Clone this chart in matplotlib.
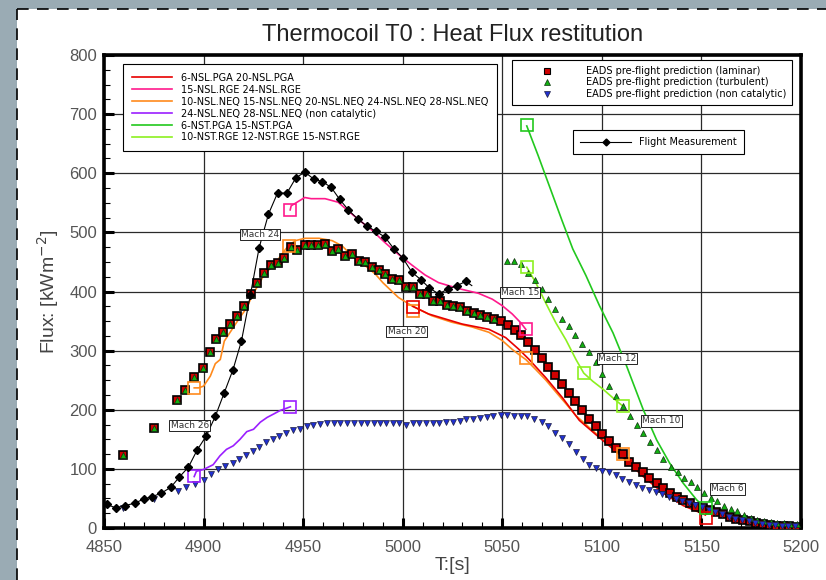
import matplotlib.pyplot as plt
from matplotlib.lines import Line2D
from matplotlib.patches import Rectangle

# Flight measurement (black diamonds + thin line)
flight_t = [4851.4, 4855.9, 4860.7, 4865.4, 4870, 4874.2, 4878.8, 4883.6, 4887.8, 4892.4,
            4896.8, 4901.4, 4905.9, 4910.3, 4914.8, 4919, 4923.5, 4927.9, 4932.6, 4937.2,
            4941.8, 4946.3, 4950.8, 4955.4, 4959.6, 4964.1, 4968.3, 4972.7, 4977.3, 4981.9,
            4986.4, 4991.1, 4995.6, 5000, 5004.5, 5009.1, 5013.4, 5018, 5022.7, 5027.2,
            5031.7, 5034.7]
flight_q = [40, 34, 38, 42, 49, 53, 59, 69, 86, 103,
            132, 156, 189, 228, 268, 316, 394, 474, 531, 567,
            566, 592, 602, 590, 586, 576, 556, 538, 523, 511,
            502, 492, 472, 457, 433, 420, 406, 396, 404, 410,
            417, 410]

# EADS pre-flight prediction (laminar)
eads_t = [4859.5, 4875, 4886.9, 4890.8, 4895.3, 4899.5, 4903, 4906.4, 4910, 4913.4,
          4916.6, 4920.3, 4923.7, 4926.7, 4930.4, 4933.8, 4937.2, 4940.6, 4944, 4947.1,
          4950.7, 4954, 4957.4, 4960.8, 4964.3, 4967.7, 4971, 4974.4, 4977.8, 4981.2,
          4984.5, 4988, 4991.2, 4994.8, 4998.2, 5001.6, 5005, 5008.7, 5012.1, 5015.4,
          5018.8, 5022.1, 5025.5, 5028.9, 5032.2, 5035.6, 5039, 5042.4, 5045.8, 5049.4,
          5052.9, 5056.2, 5059.6, 5063, 5066.3, 5069.7, 5073.1, 5076.5, 5079.9, 5083.3,
          5086.7, 5090.1, 5093.5, 5096.9, 5100.3, 5103.7, 5107, 5110.4, 5113.8, 5117.1,
          5120.5, 5123.9, 5127.5, 5130.8, 5134.2, 5137.5, 5140.8, 5144.2, 5147.5, 5150.9,
          5154.2, 5157.5, 5160.8, 5164.2, 5167.5, 5170.8, 5174.2, 5177.5, 5180.8, 5184.2,
          5187.5, 5190.8, 5194.2, 5197.5]
eads_lam = [124, 169, 216, 234, 256, 271, 298, 319, 331, 345,
            359, 376, 395, 415, 432, 445, 448, 457, 475, 471,
            478, 478, 478, 480, 469, 472, 460, 463, 451, 450,
            441, 437, 429, 421, 419, 407, 407, 396, 396, 384,
            384, 377, 375, 373, 367, 364, 360, 357, 354, 350,
            343, 335, 326, 315, 301, 288, 273, 258, 244, 229,
            214, 199, 185, 172, 159, 147, 136, 125, 112, 104,
            94, 85, 76, 67, 60, 53, 47, 42, 36, 33,
            30, 27, 23, 19, 16, 13.5, 11, 9, 7, 5,
            4, 3.4, 2.8, 2.3]

# EADS pre-flight prediction (turbulent): same as laminar up to 5045.8 s, then
n_shared = 49
turb_t_late = [5052.5, 5055.9, 5059.3, 5063, 5066.3, 5069.7, 5073.1, 5076.4, 5079.9, 5083.3,
               5086.7, 5090.1, 5093.5, 5096.9, 5100.3, 5103.7, 5107.2, 5110.6, 5114, 5117.4,
               5120.8, 5124.2, 5127.5, 5130.8, 5134.5, 5138, 5141.3, 5144.7, 5148, 5151.3,
               5154.7, 5158, 5161.3, 5164.7, 5168, 5171.3, 5174.7, 5178, 5181.3, 5184.7,
               5188, 5191.3, 5194.7, 5198]
turb_q_late = [452, 451, 446, 432, 419, 405, 388, 370, 353, 341,
               327, 312, 297, 280, 261, 240, 223, 207, 189, 175,
               160, 145, 132, 116, 104, 94, 85, 77, 69, 60,
               50, 45, 37, 32, 28, 22, 17.5, 13.6, 12, 9.6,
               9, 8, 6.8, 6.8]
turb_t = eads_t[:n_shared] + turb_t_late
turb_q = eads_lam[:n_shared] + turb_q_late

# EADS pre-flight prediction (non catalytic)
nc_t = [4859.5, 4875, 4887, 4891, 4895.8, 4900, 4903.9, 4907.3, 4911, 4914.6,
        4917.8, 4921.2, 4924.6, 4928, 4931.4, 4934.7, 4938.1, 4941.5, 4944.9, 4948.3,
        4951.7, 4955.1, 4958.5, 4961.9, 4965.3, 4968.7, 4972.1, 4975.5, 4978.9, 4982.3,
        4985.7, 4988.6, 4991.4, 4994.9, 4998.3, 5001.7, 5005, 5008.2, 5011.6, 5015,
        5018.4, 5021.9, 5025.1, 5028.6, 5032, 5035.4, 5038.7, 5042.1, 5045.5, 5049.2,
        5052.5, 5055.9, 5059.3, 5062.6, 5066, 5069.7, 5073.2, 5076.5, 5080, 5083.5,
        5087, 5090.3, 5093.7, 5097, 5100.3, 5103.7, 5107, 5110.3, 5113.7, 5117,
        5120.3, 5123.7, 5127, 5130.3, 5133.7, 5137, 5140.3, 5143.7, 5147, 5150.3,
        5153.7, 5157, 5160.3, 5163.7, 5167, 5170.3, 5173.7, 5177, 5180.3, 5183.7,
        5187, 5190.3, 5193.7, 5197]
nc_q = [33, 49, 63, 69, 75, 82, 91, 99, 105, 110,
        116, 123, 130, 137, 145, 151, 155, 160, 166, 167,
        173, 175, 176, 177, 178, 178, 178, 178, 178, 178,
        178, 178, 177, 177, 178, 175, 178, 177, 177, 178,
        177, 179, 179, 181, 184, 185, 186, 188, 189, 191,
        191, 190, 190, 189, 184, 179, 172, 161, 152, 142,
        128, 117, 107, 102, 97, 94, 89, 83, 78, 73,
        68, 65, 61, 57, 53, 49, 46, 42, 39, 35,
        30.5, 26.5, 23, 19, 16, 13.5, 11, 9, 7, 5,
        4.5, 4, 3.4, 3]

# Simulation curves
red_t = [5005, 5013, 5029.8, 5043.3, 5051.7, 5058.4, 5063.5, 5071.9, 5080.3, 5088.7,
         5097, 5103, 5110, 5120.8, 5130.8, 5140.8, 5150, 5152]
red_q = [375, 362, 345, 336, 322, 302, 285, 254, 220, 182,
         158, 141, 121, 87, 59, 38, 25, 22]
red_pts_t = [5005, 5152.5]
red_pts_q = [374, 17]

pink_t = [4943.5, 4944, 4950.8, 4954, 4961, 4967.6, 4972.7, 4977.7, 4984.4, 4991,
          4997.8, 5004.5, 5011.2, 5018, 5028, 5038, 5045, 5050, 5055, 5059.3, 5061.8]
pink_q = [538, 545, 559, 557, 557, 551, 536, 522, 504, 483,
          463, 445, 428, 415, 405, 397, 387, 376, 362, 347, 336]
pink_pts_t = [4943.3, 5062]
pink_pts_q = [538, 337]

orange_t = [4895.3, 4897.5, 4900, 4903.4, 4905.9, 4908.4, 4910.4, 4914.3, 4917.6, 4921.8,
            4924.3, 4927.7, 4931, 4935.2, 4938.6, 4942, 4946, 4951, 4958, 4964.6,
            4969.6, 4974.7, 4981.4, 4986.4, 4990, 4997.8, 5004.5, 5014.6, 5024.7, 5034.8,
            5043.3, 5050, 5055, 5059.3, 5061.8, 5066.8, 5071.9, 5076.9, 5082, 5087,
            5092, 5097, 5102, 5106, 5110.5]
orange_q = [237, 237, 240, 257, 278, 285, 316, 336, 353, 373,
            393, 412, 432, 443, 460, 475, 486, 490, 490, 486,
            477, 460, 443, 429, 415, 390, 376, 359, 348, 340,
            331, 317, 302, 291, 285, 268, 250, 230, 210, 190,
            175, 160, 145, 135, 126]
orange_pts_t = [4895.3, 4942.8, 5005, 5062, 5110.8]
orange_pts_q = [236, 477, 367, 287, 126]

purple_t = [4895.3, 4896.4, 4900, 4904.8, 4908.2, 4911.5, 4914.9, 4918.3, 4921.7, 4925.1,
            4928.5, 4931.9, 4935.3, 4938.6, 4942, 4943.6]
purple_q = [87, 96, 99, 107, 122, 133, 139, 150, 163, 167,
            179, 187, 193, 199, 203, 205]
purple_pts_t = [4895.3, 4943.6]
purple_pts_q = [88, 205]

green_t = [5062.3, 5068, 5074, 5080, 5085.4, 5092, 5098.8, 5105.6, 5112.3, 5120.8,
           5127.5, 5134, 5140.8, 5147.5, 5152]
green_q = [680, 630, 575, 520, 472, 427, 376, 330, 275, 200,
           149, 110, 76, 48, 33]
green_pts_t = [5062.3, 5152.3]
green_pts_q = [681, 33]

lime_t = [5062.3, 5066.8, 5071.9, 5076.9, 5082, 5087, 5090.9, 5095.5, 5100.5, 5105.6, 5110.6]
lime_q = [441, 415, 380, 347, 318, 285, 262, 248, 235, 220, 206]
lime_pts_t = [5062.3, 5090.9, 5110.6]
lime_pts_q = [441, 263, 207]

mach_labels = ['Mach 24', 'Mach 26', 'Mach 20', 'Mach 15', 'Mach 12', 'Mach 10', 'Mach 6']
mach_t = [4928.3, 4893, 5002, 5058.8, 5107.5, 5130, 5163]
mach_q = [497, 173, 332, 398, 286, 181, 66]

narrow = ['Liberation Sans Narrow', 'Liberation Sans', 'DejaVu Sans']

fig = plt.figure(figsize=(8.26, 5.8), dpi=100)
fig.patch.set_facecolor('#9aabb4')
fig.patches.append(Rectangle((17 / 826, 0), 1, 1 - 9 / 580, transform=fig.transFigure,
                             facecolor='white', edgecolor='none', zorder=-5))
fig.lines.append(Line2D([17 / 826, 17 / 826], [0, 1 - 8.5 / 580], transform=fig.transFigure,
                        color='black', lw=1.2, dashes=(7, 5), zorder=-4))
fig.lines.append(Line2D([17 / 826, 1], [1 - 8.5 / 580, 1 - 8.5 / 580], transform=fig.transFigure,
                        color='black', lw=1.2, dashes=(7, 5), zorder=-4))

ax = fig.add_axes([104 / 826, 1 - 528 / 580, 697 / 826, 473 / 580])

# simulation lines
ax.plot(orange_t, orange_q, color='#ff8a1c', lw=1.2, zorder=3)
ax.plot(red_t, red_q, color='#e80000', lw=1.2, zorder=3)
ax.plot(pink_t, pink_q, color='#ff1a8c', lw=1.2, zorder=3)
ax.plot(purple_t, purple_q, color='#9b1fff', lw=1.2, zorder=3)
ax.plot(green_t, green_q, color='#22c81e', lw=1.2, zorder=3)
ax.plot(lime_t, lime_q, color='#8cf020', lw=1.2, zorder=3)

# EADS predictions
ax.plot(eads_t, eads_lam, 's', ms=5.2, mfc='#d00000', mec='black', mew=1.2, zorder=4)
ax.plot(turb_t, turb_q, '^', ms=4.4, mfc='#10b010', mec='#103010', mew=0.5, zorder=5)
ax.plot(nc_t, nc_q, 'v', ms=4.4, mfc='#2030d0', mec='#202040', mew=0.5, zorder=5)

# open squares at trajectory points
ax.plot(orange_pts_t, orange_pts_q, 's', ms=8, mfc='none', mec='#ff8a1c', mew=1.2, zorder=6)
ax.plot(red_pts_t, red_pts_q, 's', ms=8, mfc='none', mec='#e80000', mew=1.2, zorder=6)
ax.plot(pink_pts_t, pink_pts_q, 's', ms=8, mfc='none', mec='#ff1a8c', mew=1.2, zorder=6)
ax.plot(purple_pts_t, purple_pts_q, 's', ms=8, mfc='none', mec='#9b1fff', mew=1.2, zorder=6)
ax.plot(green_pts_t, green_pts_q, 's', ms=8, mfc='none', mec='#22c81e', mew=1.2, zorder=6)
ax.plot(lime_pts_t, lime_pts_q, 's', ms=8, mfc='none', mec='#8cf020', mew=1.2, zorder=6)

# flight measurement
ax.plot(flight_t, flight_q, color='black', lw=0.8, zorder=7)
ax.plot(flight_t[:-1], flight_q[:-1], 'D', ms=4.2, color='black', zorder=7)

for lab, t, q in zip(mach_labels, mach_t, mach_q):
    ax.text(t, q, lab, fontsize=6.5, color='#333333', ha='center', va='center', zorder=8,
            bbox=dict(boxstyle='square,pad=0.12', fc='white', ec='black', lw=0.6))

ax.set_xlim(4850, 5200)
ax.set_ylim(0, 800)
ax.set_xticks(range(4850, 5201, 50))
ax.set_yticks(range(0, 801, 100))
ax.set_xticks(range(4850, 5201, 10), minor=True)
ax.set_yticks(range(0, 801, 25), minor=True)
ax.tick_params(which='both', direction='in', top=False, right=False, color='black')
ax.tick_params(which='major', length=7, width=2.2, labelsize=12, labelcolor='#555555')
ax.tick_params(axis='x', which='major', pad=9)
ax.tick_params(axis='y', which='major', pad=5)
ax.tick_params(which='minor', length=4, width=0.8)
for lbl in ax.get_xticklabels() + ax.get_yticklabels():
    lbl.set_family(narrow)
ax.grid(True, which='major', color='#2a2a2a', lw=0.9)
for s in ax.spines.values():
    s.set_linewidth(2.6)

ax.set_xlabel('T:[s]', fontsize=14, color='#444444', family=narrow, labelpad=1)
ax.set_ylabel('Flux: [kWm$^{-2}$]', fontsize=14, color='#444444', family=narrow, labelpad=6)
ax.set_title('Thermocoil T0 : Heat Flux restitution', fontsize=17, color='#222222',
             family=narrow, pad=10)

# legends
sim_handles = [Line2D([], [], color=c, lw=1.2) for c in
               ['#e80000', '#ff1a8c', '#ff8a1c', '#9b1fff', '#22c81e', '#8cf020']]
sim_labels = ['6-NSL.PGA 20-NSL.PGA', '15-NSL.RGE 24-NSL.RGE',
              '10-NSL.NEQ 15-NSL.NEQ 20-NSL.NEQ 24-NSL.NEQ 28-NSL.NEQ',
              '24-NSL.NEQ 28-NSL.NEQ (non catalytic)', '6-NST.PGA 15-NST.PGA',
              '10-NST.RGE 12-NST.RGE 15-NST.RGE']
leg1 = ax.legend(sim_handles, sim_labels, loc='upper left', bbox_to_anchor=(0.027, 0.981),
                 fontsize=7, frameon=True, fancybox=False, edgecolor='black', framealpha=1,
                 handlelength=4.2, handletextpad=0.9, labelspacing=0.2, borderpad=0.9,
                 borderaxespad=0)
leg1.get_frame().set_linewidth(0.8)
leg1.set_zorder(10)
ax.add_artist(leg1)

eads_handles = [Line2D([], [], ls='none', marker='s', ms=4.5, mfc='#d00000', mec='black', mew=0.8),
                Line2D([], [], ls='none', marker='^', ms=4.5, mfc='#10b010', mec='#103010', mew=0.5),
                Line2D([], [], ls='none', marker='v', ms=4.5, mfc='#2030d0', mec='#202040', mew=0.5)]
eads_labels = ['EADS pre-flight prediction (laminar)', 'EADS pre-flight prediction (turbulent)',
               'EADS pre-flight prediction (non catalytic)']
leg2 = ax.legend(eads_handles, eads_labels, loc='upper left', bbox_to_anchor=(0.585, 0.989),
                 fontsize=7, frameon=True, fancybox=False, edgecolor='black', framealpha=1,
                 handlelength=6, handletextpad=1.0, labelspacing=0.15, borderpad=0.6,
                 borderaxespad=0)
leg2.get_frame().set_linewidth(0.8)
leg2.set_zorder(10)
ax.add_artist(leg2)

fm_handle = [Line2D([], [], color='black', lw=0.8, marker='D', ms=3.5)]
leg3 = ax.legend(fm_handle, ['Flight Measurement'], loc='upper left', bbox_to_anchor=(0.673, 0.841),
                 fontsize=7, frameon=True, fancybox=False, edgecolor='black', framealpha=1,
                 handlelength=5.3, handletextpad=0.8, borderpad=0.7, borderaxespad=0)
leg3.get_frame().set_linewidth(0.8)
leg3.set_zorder(10)

fig.savefig('out.png', dpi=100, facecolor=fig.get_facecolor())
